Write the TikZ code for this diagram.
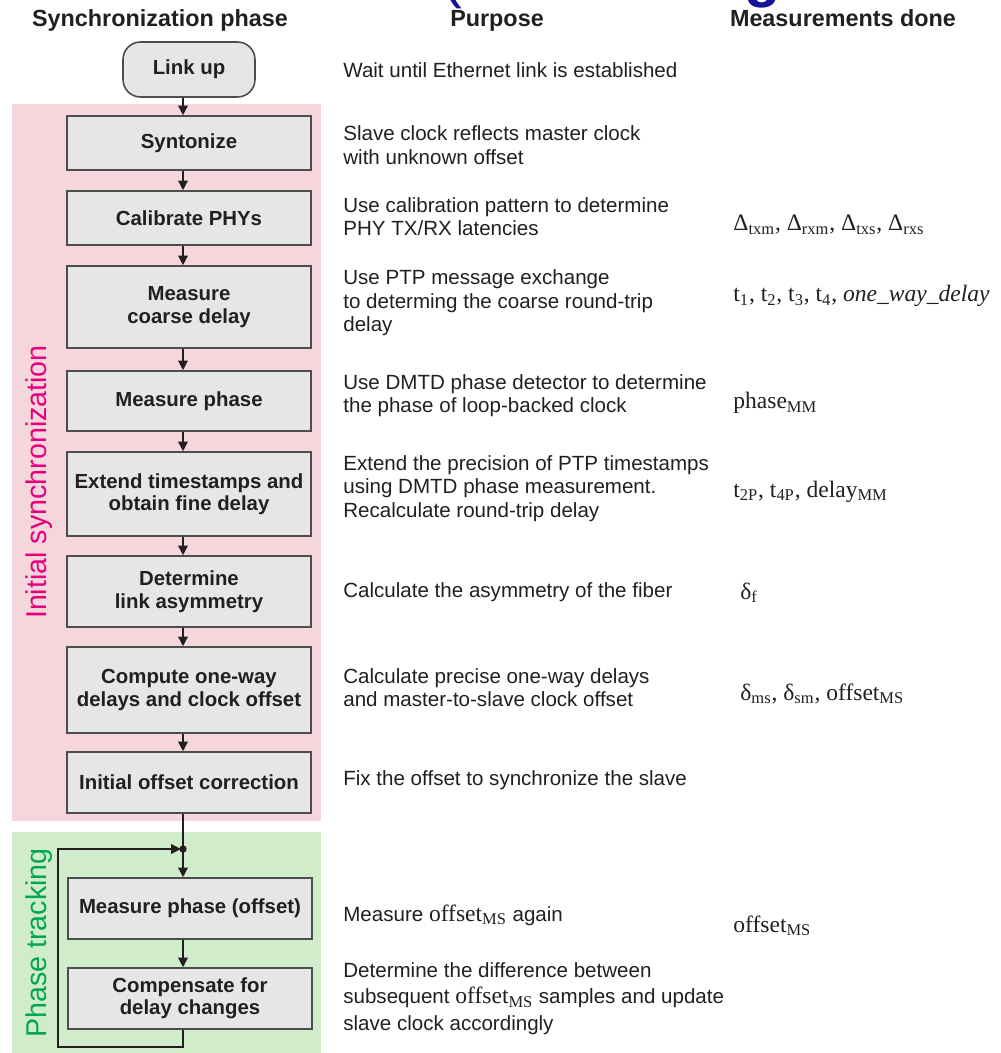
\documentclass[tikz,border=0pt]{standalone}
\usepackage{fontspec}
\setmainfont{Liberation Sans}
\newfontfamily\seriffont{Liberation Serif}
\usetikzlibrary{arrows.meta,calc}
\definecolor{pinkbg}{RGB}{245,214,221}
\definecolor{greenbg}{RGB}{208,236,203}
\definecolor{boxfill}{RGB}{230,230,230}
\definecolor{boxline}{RGB}{77,77,77}
\definecolor{txt}{RGB}{35,31,32}
\definecolor{magtxt}{RGB}{230,0,126}
\definecolor{grntxt}{RGB}{0,166,81}
\definecolor{bluetxt}{RGB}{20,20,150}
\newcommand{\myboxfont}{\fontsize{11.6pt}{12.8pt}\selectfont\bfseries}
\newcommand{\mypurfont}{\fontsize{11.7pt}{13.3pt}\selectfont}
\newcommand{\myhdrfont}{\fontsize{13.3pt}{15pt}\selectfont\bfseries}
\newcommand{\mymeasfont}{\seriffont\fontsize{13.4pt}{15pt}\selectfont}
\newcommand{\mysidefont}{\fontsize{16.3pt}{18pt}\selectfont}
\begin{document}
\begin{tikzpicture}[x=0.02cm,y=-0.02cm,
  stepbox/.style={draw=boxline, fill=boxfill, line width=0.9pt, minimum width=4.88cm,
    inner sep=0pt, align=center, text=txt, font=\myboxfont},
  hdr/.style={anchor=base, text=txt, font=\myhdrfont, inner sep=0pt},
  purp/.style={anchor=west, align=left, text=txt, font=\mypurfont, inner sep=0pt},
  meas/.style={anchor=base west, text=txt, font=\mymeasfont, inner sep=0pt},
  conn/.style={draw=txt, line width=0.8pt, -{Triangle[length=5.5pt,width=5.5pt]}},
  side/.style={rotate=90, font=\mysidefont, inner sep=0pt}]
\useasboundingbox (0,0) rectangle (1000,1053);
\fill[white] (0,0) rectangle (1000,1053);

% cut-off title fragments
\begin{scope}
\clip (0,0) rectangle (1000,1053);
\node[anchor=base, text=bluetxt, font=\fontsize{34pt}{36pt}\selectfont, inner sep=0pt] (tparen) at (452,-3) {(};
\node[anchor=base, text=bluetxt, font=\fontsize{34pt}{36pt}\selectfont\bfseries, inner sep=0pt] (tg) at (763,-4) {g};
\end{scope}

% backgrounds
\fill[pinkbg] (12,104) rectangle (321,821);
\fill[greenbg] (12,832) rectangle (321,1053);

\node[side, text=magtxt] (lblinit) at (39,482) {Initial synchronization};
\node[side, text=grntxt] (lbltrack) at (39,943) {Phase tracking};

% headers
\node[hdr] (h1) at (160,27) {Synchronization phase};
\node[hdr] (h2) at (497,27) {Purpose};
\node[hdr] (h3) at (843,27) {Measurements done};

% boxes
\node[stepbox, minimum width=2.64cm, minimum height=1.1cm, rounded corners=0.35cm] (link) at (189,69.5) {Link up};
\node[stepbox, minimum height=1.08cm] (syn) at (189,143) {Syntonize};
\node[stepbox, minimum height=1.08cm] (cal) at (189,218) {Calibrate PHYs};
\node[stepbox, minimum height=1.64cm] (coarse) at (189,307) {Measure\\coarse delay};
\node[stepbox, minimum height=1.2cm] (mph) at (189,401) {Measure phase};
\node[stepbox, minimum height=1.68cm] (ext) at (189,494) {Extend timestamps and\\obtain fine delay};
\node[stepbox, minimum height=1.42cm] (det) at (189,591.5) {Determine\\link asymmetry};
\node[stepbox, minimum height=1.72cm] (comp) at (189,690) {Compute one-way\\delays and clock offset};
\node[stepbox, minimum height=1.22cm] (init) at (189,782.5) {Initial offset correction};
\node[stepbox, minimum height=1.22cm] (mpo) at (190,908.5) {Measure phase (offset)};
\node[stepbox, minimum height=1.22cm] (cmp) at (190,998.5) {Compensate for\\delay changes};

% connectors
\coordinate (ax) at (183,0);
\draw[conn] (link.south -| ax) -- (syn.north -| ax);
\draw[conn] (syn.south -| ax) -- (cal.north -| ax);
\draw[conn] (cal.south -| ax) -- (coarse.north -| ax);
\draw[conn] (coarse.south -| ax) -- (mph.north -| ax);
\draw[conn] (mph.south -| ax) -- (ext.north -| ax);
\draw[conn] (ext.south -| ax) -- (det.north -| ax);
\draw[conn] (det.south -| ax) -- (comp.north -| ax);
\draw[conn] (comp.south -| ax) -- (init.north -| ax);
\draw[conn] (init.south -| ax) -- (mpo.north -| ax);
\draw[conn] (mpo.south -| ax) -- (cmp.north -| ax);
\coordinate (jn) at (183,849);
\coordinate (ll) at (58,1047);
\fill[txt] (jn) circle[radius=2.1pt];
\draw[conn, shorten >=1.2pt] (cmp.south -| ax) |- (ll) |- (jn);

% purpose column
\node[purp] (p0) at (343,70) {Wait until Ethernet link is established};
\node[purp] (p1) at (343,145) {Slave clock reflects master clock\\with unknown offset};
\node[purp] (p2) at (343,216.5) {Use calibration pattern to determine\\PHY TX/RX latencies};
\node[purp] (p3) at (343,303) {Use PTP message exchange\\to determing the coarse round-trip\\delay};
\node[purp] (p4) at (343,396) {Use DMTD phase detector to determine\\the phase of loop-backed clock};
\node[purp] (p5) at (343,488.5) {Extend the precision of PTP timestamps\\using DMTD phase measurement.\\Recalculate round-trip delay};
\node[purp] (p6) at (343,592) {Calculate the asymmetry of the fiber};
\node[purp] (p7) at (343,687.5) {Calculate precise one-way delays\\and master-to-slave clock offset};
\node[purp] (p8) at (343,780) {Fix the offset to synchronize the slave};
\node[purp] (p9) at (343,915) {Measure {\mymeasfont offset\textsubscript{MS}} again};
\node[purp, font=\fontsize{11.7pt}{15.2pt}\selectfont] (p10) at (343,998.5) {Determine the difference between\\subsequent {\mymeasfont offset\textsubscript{MS}} samples and update\\slave clock accordingly};

% measurements column
\node[meas] (m2) at (733,231) {Δ\textsubscript{txm}, Δ\textsubscript{rxm}, Δ\textsubscript{txs}, Δ\textsubscript{rxs}};
\node[meas] (m3) at (733,302) {t\textsubscript{1}, t\textsubscript{2}, t\textsubscript{3}, t\textsubscript{4}, \textit{one\_way\_delay}};
\node[meas] (m4) at (733,409) {phase\textsubscript{MM}};
\node[meas] (m5) at (733,497) {t\textsubscript{2P}, t\textsubscript{4P}, delay\textsubscript{MM}};
\node[meas] (m6) at (740,599) {δ\textsubscript{f}};
\node[meas] (m7) at (740,700) {δ\textsubscript{ms}, δ\textsubscript{sm}, offset\textsubscript{MS}};
\node[meas] (m9) at (733,932) {offset\textsubscript{MS}};
\end{tikzpicture}
\end{document}
